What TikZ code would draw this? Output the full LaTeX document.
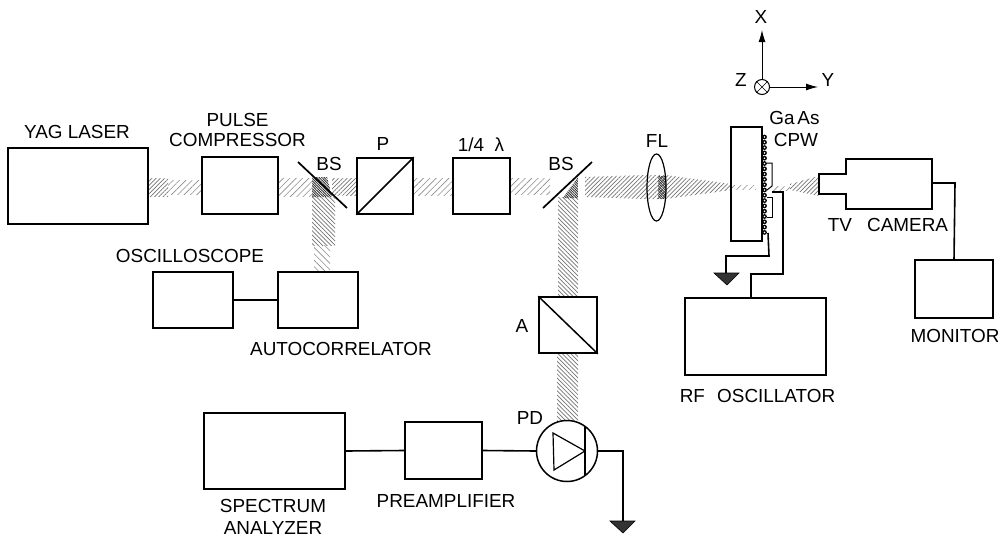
\documentclass[tikz,border=0pt]{standalone}
\usepackage{fontspec}
\setmainfont{Liberation Sans}
\usetikzlibrary{patterns.meta,shapes.geometric,arrows.meta}
\tikzset{
  box/.style={draw,line width=1.5pt,inner sep=0pt},
  lbl/.style={inner sep=0pt,font=\fontsize{18.9}{20}\selectfont},
  wire/.style={line width=1.6pt},
  beamfaint/.style={pattern={Lines[angle=45,distance=4.5pt,line width=.6pt]},pattern color=black!45},
  beamh/.style={pattern={Lines[angle=45,distance=3pt,line width=.7pt]},pattern color=black!55},
  beamv/.style={pattern={Lines[angle=-45,distance=3pt,line width=.7pt]},pattern color=black!55},
  beamvf/.style={pattern={Lines[angle=-45,distance=4.5pt,line width=.6pt]},pattern color=black!45},
  beamspot/.style={pattern={Lines[angle=-45,distance=1.8pt,line width=.9pt]},pattern color=black!80},
  gnd/.style={fill=black!80,draw=black,line width=.6pt}
}
\begin{document}
\begin{tikzpicture}[x=1pt,y=-1pt]
\useasboundingbox (0,0) rectangle (998,538);

% Draw beams
\fill[beamh] (148,178) rectangle (168,196);
\fill[beamfaint] (168,180) rectangle (202,194);
\fill[beamfaint] (278,178) rectangle (312,196);
\fill[beamh] (332,178) rectangle (357,195);
\fill[beamfaint] (413,178) rectangle (453,195);
\fill[beamfaint] (510,178) rectangle (550,194);
\fill[beamh] (585,177) -- (647,175) -- (666,175) -- (731,184) -- (731,190) -- (666,199) -- (647,199) -- (585,197) -- cycle;
\fill[beamspot] (658,176) rectangle (666,198);
\fill[beamfaint] (731,185) rectangle (756,189);
\fill[beamh] (790,184) -- (819,176) -- (819,196) -- (790,190) -- cycle;
\fill[beamfaint] (773,186) rectangle (790,190);
\fill[beamv] (312,197) rectangle (335,245);
\fill[beamvf] (314,245) rectangle (330,272);
\fill[beamv] (558,197) rectangle (578,297);
\fill[beamv] (557,353) rectangle (578,422);
\fill[beamspot] (312,177) -- (327,177) -- (332,197) -- (312,197) -- cycle;
\fill[beamspot] (563,198) -- (578,198) -- (578,177) -- cycle;

% Draw boxes
\node[box,minimum width=140pt,minimum height=76pt] (yag) at (78,186) {};
\node[box,minimum width=76pt,minimum height=57pt] (comp) at (240,185.5) {};
\node[box,minimum width=56pt,minimum height=56pt] (pol) at (385,186) {};
\node[box,minimum width=57pt,minimum height=56pt] (qwp) at (481.5,186) {};
\node[box,minimum width=80pt,minimum height=56pt] (auto) at (318,300) {};
\node[box,minimum width=80pt,minimum height=56pt] (osc) at (193,300) {};
\node[box,minimum width=58pt,minimum height=56pt] (ana) at (568,325) {};
\node[box,minimum width=141pt,minimum height=76pt] (spec) at (274.5,451) {};
\node[box,minimum width=77pt,minimum height=57pt] (pre) at (443.5,450.5) {};
\node[box,minimum width=141pt,minimum height=77pt] (rf) at (755.5,336.5) {};
\node[box,minimum width=78pt,minimum height=58pt] (mon) at (954,289) {};
\node[draw,line width=1.5pt,fill=white,circle,minimum size=61pt,inner sep=0pt] (pd) at (567,451) {};

% Draw mirrors and diagonals
\coordinate (bsa1) at (298,162);
\coordinate (bsa2) at (347,208);
\coordinate (bsb1) at (543,208);
\coordinate (bsb2) at (592,162);
\draw[line width=1.7pt] (bsa1) -- (bsa2);
\draw[line width=1.7pt] (bsb1) -- (bsb2);
\draw[line width=1.5pt] (pol.south west) -- (pol.north east);
\draw[line width=1.5pt] (ana.north west) -- (ana.south east);

% Draw lens
\node[draw,line width=1.2pt,ellipse,minimum width=19pt,minimum height=67pt,inner sep=0pt] (lens) at (656.5,187.5) {};

% Draw sample
\node[box,minimum width=31pt,minimum height=114pt] (gaas) at (746.5,184) {};
\foreach \k in {0,1,...,18} {
   \pgfmathsetmacro{\yy}{137+5.3*\k}
   \fill (764.5,\yy) circle (2.4pt);
   \fill[white] (764.5,\yy) circle (.9pt);
}
\draw[line width=1pt] (767,163) -- (772,163) -- (772,186) -- (767,190);
\draw[line width=1pt] (767,197) -- (772,197) -- (772,217) -- (767,217);

% Draw camera
\node[box,minimum width=86pt,minimum height=50pt] (cam) at (889,184) {};
\draw[line width=1.5pt,fill=white] (846,174) -- (819,174) -- (819,194) -- (846,194);
\draw[line width=2pt,white] (846,175) -- (846,193);

% Draw connectors
\draw[wire] (osc.east) -- (auto.west);
\draw[wire] (spec.east) -- (pre.west);
\draw[wire] (pre.east) -- (pd.west);
\coordinate (cpwout) at (772,192);
\coordinate (rftop) at (751,298);
\draw[wire] (cpwout) -- (783,192) -- (783,274) -- (751,274) -- (rftop);
\coordinate (gndwa) at (768,233);
\coordinate (gndwb) at (726,273);
\draw[wire] (gndwa) -- (769,256) -- (726,256) -- (gndwb);
\fill[gnd] (714,273) -- (739,273) -- (727,285) -- cycle;
\coordinate (camout) at (932,183);
\coordinate (montop) at (954,260);
\draw[wire] (camout) -- (955,183) -- (montop);
\coordinate (gndpd) at (623,521);
\draw[wire] (pd.east) -- (623,451) -- (gndpd);
\fill[gnd] (610,521) -- (635,521) -- (623,533) -- cycle;

% Draw photodiode
\draw[line width=1.2pt] (553,433) -- (585,451) -- (554,470) -- cycle;
\draw[line width=1.2pt] (585,426) -- (585,476);

% Draw axes
\node[draw,line width=1pt,circle,minimum size=15pt,inner sep=0pt] (zax) at (762,87) {};
\draw (zax.north west) -- (zax.south east) (zax.north east) -- (zax.south west);
\coordinate (xtip) at (762,30);
\coordinate (ytip) at (818,87);
\draw[-{Latex[length=12pt,width=7pt]},line width=1pt] (zax.north) -- (xtip);
\draw[-{Latex[length=12pt,width=7pt]},line width=1pt] (zax.east) -- (ytip);
\node[lbl] (xlbl) at (761,17) {X};
\node[lbl] (ylbl) at (828,80) {Y};
\node[lbl] (zlbl) at (741,80) {Z};

% Label everything
\node[lbl] (yaglbl) at (77,132) {YAG LASER};
\node[lbl] (pulselbl) at (237.5,119.5) {PULSE};
\node[lbl] (complbl) at (237.5,140) {COMPRESSOR};
\node[lbl] (bsalbl) at (329,164) {BS};
\node[lbl] (plbl) at (383,144) {P};
\node[lbl] (qlbl) at (481,145) {1/4\hspace{.55em}λ};
\node[lbl] (bsblbl) at (561,164) {BS};
\node[lbl] (fllbl) at (657,141) {FL};
\node[lbl] (gaaslbl) at (794.5,118) {Ga\hspace{.15em}As};
\node[lbl] (cpwlbl) at (796,139.5) {CPW};
\node[lbl] (tvlbl) at (888,225) {TV\hspace{.8em}CAMERA};
\node[lbl] (monlbl) at (955,336) {MONITOR};
\node[lbl] (osclbl) at (190,256) {OSCILLOSCOPE};
\node[lbl] (autolbl) at (341,348.5) {AUTOCORRELATOR};
\node[lbl] (alal) at (522,326) {A};
\node[lbl] (pdlbl) at (530,418) {PD};
\node[lbl] (rflbl) at (757.5,396) {RF\hspace{.65em}OSCILLATOR};
\node[lbl] (speclbl) at (273,506) {SPECTRUM};
\node[lbl] (analbl) at (273,528) {ANALYZER};
\node[lbl] (prelbl) at (446,501) {PREAMPLIFIER};
\end{tikzpicture}
\end{document}
